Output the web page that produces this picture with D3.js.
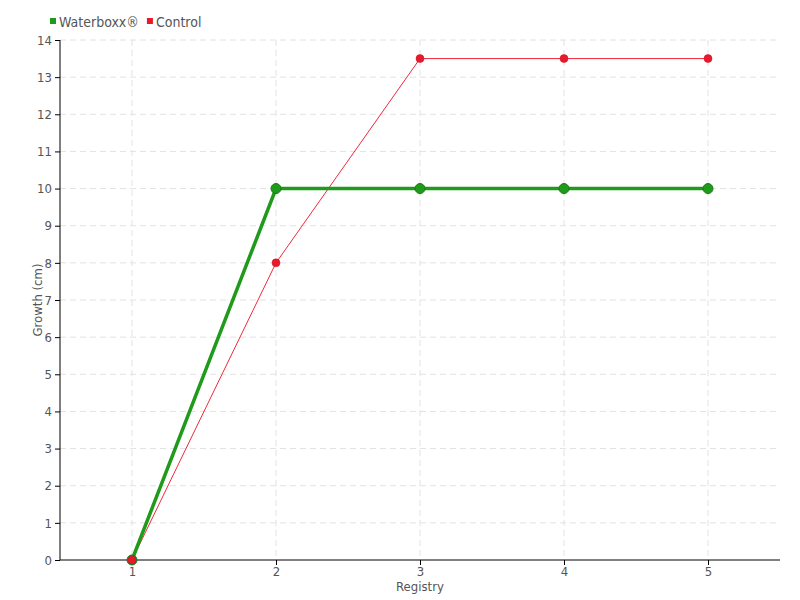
<!DOCTYPE html>
<html><head><meta charset="utf-8">
<script src="https://cdn.jsdelivr.net/npm/d3@7"></script>
<style>
body{margin:0;background:#fff;}
text{font-family:"DejaVu Sans Condensed","DejaVu Sans",sans-serif;font-stretch:condensed;fill:#555;}
</style></head><body>
<svg id="c" width="800" height="600"></svg>
<script>
const registry = [1, 2, 3, 4, 5];
const waterboxx = [0, 10, 10, 10, 10];
const control = [0, 8, 13.5, 13.5, 13.5];
const yTicks = [0,1,2,3,4,5,6,7,8,9,10,11,12,13,14];
const seriesNames = ["Waterboxx®", "Control"];

const FONT = "'DejaVu Sans Condensed','DejaVu Sans',sans-serif";
const svg = d3.select("#c");
const L = 60, R = 780, T = 40, B = 560;
const x = d3.scaleLinear().domain([0.5, 5.5]).range([L, R]);
const y = d3.scaleLinear().domain([0, 14]).range([B, T]);

// grid
const g = svg.append("g");
g.selectAll("line.h").data(yTicks.slice(1)).enter().append("line")
  .attr("x1", L).attr("x2", R).attr("y1", d => y(d)).attr("y2", d => y(d))
  .attr("stroke", "#e2e2e2").attr("stroke-dasharray", "6,4");
g.selectAll("line.v").data(registry).enter().append("line")
  .attr("x1", d => x(d)).attr("x2", d => x(d)).attr("y1", T).attr("y2", B)
  .attr("stroke", "#e2e2e2").attr("stroke-dasharray", "6,4");

// axes
const xa = svg.append("g").attr("transform", `translate(0,${B})`)
  .call(d3.axisBottom(x).tickValues(registry).tickSize(5).tickPadding(2).tickFormat(d3.format("d")));
const ya = svg.append("g").attr("transform", `translate(${L},0)`)
  .call(d3.axisLeft(y).tickValues(yTicks).tickSize(5).tickPadding(3).tickFormat(d3.format("d")));
[xa, ya].forEach(a => {
  a.select(".domain").attr("stroke", "#000").attr("stroke-width", 1);
  a.selectAll(".tick line").attr("stroke", "#000");
  a.selectAll("text").attr("font-size", 13).attr("fill", "#555")
    .style("font-family", FONT).style("font-stretch", "condensed");
});
xa.select(".domain").attr("d", `M${L},0H${R}`);
ya.select(".domain").attr("d", `M0,${B}V${T}`);

svg.append("text").attr("x", (L + R) / 2).attr("y", 591).attr("text-anchor", "middle")
  .attr("font-size", 13).text("Registry");
svg.append("text").attr("transform", `translate(42,${(T + B) / 2}) rotate(-90)`)
  .attr("text-anchor", "middle").attr("font-size", 13).text("Growth (cm)");

const line = d3.line().x((d, i) => x(registry[i])).y(d => y(d));

// control (red)
svg.append("path").datum(control).attr("d", line).attr("fill", "none")
  .attr("stroke", "#f0283c").attr("stroke-width", 1);
// waterboxx (green)
svg.append("path").datum(waterboxx).attr("d", line).attr("fill", "none")
  .attr("stroke", "#1f9a1a").attr("stroke-width", 3.5);
svg.selectAll("circle.w").data(waterboxx).enter().append("circle")
  .attr("cx", (d, i) => x(registry[i])).attr("cy", d => y(d)).attr("r", 5)
  .attr("fill", "#1f9a1a").attr("stroke", "#197a16").attr("stroke-width", 1);
svg.selectAll("circle.c").data(control).enter().append("circle")
  .attr("cx", (d, i) => x(registry[i])).attr("cy", d => y(d)).attr("r", 4)
  .attr("fill", "#e8192c").attr("stroke", "#c8101f").attr("stroke-width", 0.5);

// legend
const colors = ["#1f9a1a", "#e8192c"];
let lx = 50;
seriesNames.forEach((n, i) => {
  svg.append("rect").attr("x", lx).attr("y", 18).attr("width", 6).attr("height", 6).attr("fill", colors[i]);
  const t = svg.append("text").attr("x", lx + 9).attr("y", 27).attr("font-size", 14).text(n);
  lx += 9 + t.node().getComputedTextLength() + 8;
});
</script></body></html>
